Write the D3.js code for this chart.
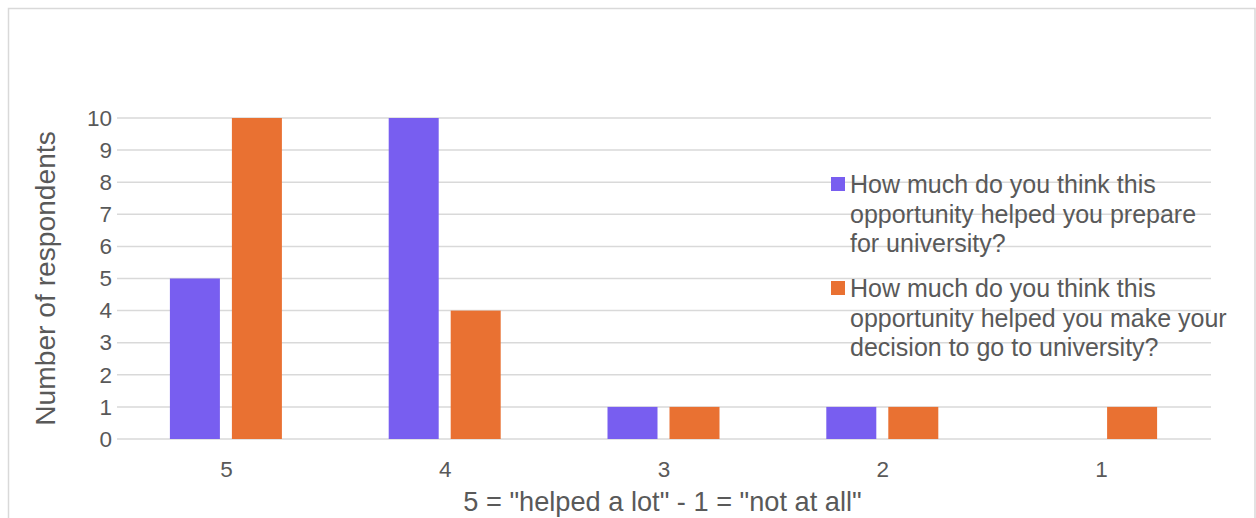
<!DOCTYPE html>
<html><head><meta charset="utf-8">
<script src="https://cdn.jsdelivr.net/npm/d3@7"></script>
<style>
html,body{margin:0;padding:0;background:#fff;}
text{font-family:"Liberation Sans",Arial,Helvetica,sans-serif;fill:#595959;}
</style></head>
<body>
<svg id="chart" width="1256" height="518"></svg>
<script>
const categories = ["5","4","3","2","1"];
const seriesNames = [
  ["How much do you think this","opportunity helped you prepare","for university?"],
  ["How much do you think this","opportunity helped you make your","decision to go to university?"]
];
const prepareValues = [5,10,1,1,0];
const decisionValues = [10,4,1,1,1];
const yTicks = [0,1,2,3,4,5,6,7,8,9,10];
const colors = ["#785EF0","#E97132"];
const yTitle = "Number of respondents";
const xTitle = "5 = \"helped a lot\" - 1 = \"not at all\"";

(function(){
const svg = d3.select("#chart");
// outer border
svg.append("rect").attr("x",8.5).attr("y",8.5).attr("width",1246.5).attr("height",520)
  .attr("fill","none").attr("stroke","#d9d9d9").attr("stroke-width",1.5);

const pL=117, pR=1211, pT=118, pB=439;
const x = d3.scaleBand().domain(categories).range([pL,pR]);
const y = d3.scaleLinear().domain([0,10]).range([pB,pT]);

// gridlines
svg.append("g").selectAll("line").data(yTicks).join("line")
  .attr("x1",pL).attr("x2",pR)
  .attr("y1",d=>y(d)).attr("y2",d=>y(d))
  .attr("stroke","#d9d9d9").attr("stroke-width",1.5);

// y axis labels
const yAxis = d3.axisLeft(y).tickValues(yTicks).tickSize(0).tickPadding(5);
const gy = svg.append("g").attr("transform",`translate(${pL},0)`).call(yAxis);
gy.select(".domain").remove();
gy.selectAll("text").style("font-size","22.5px").attr("fill","#595959")
  .style("font-family","'Liberation Sans',Arial,sans-serif");

// x axis labels
const xAxis = d3.axisBottom(x).tickSize(0).tickPadding(22);
const gx = svg.append("g").attr("transform",`translate(0,${pB})`).call(xAxis);
gx.select(".domain").remove();
gx.selectAll("text").style("font-size","22.5px").attr("fill","#595959")
  .style("font-family","'Liberation Sans',Arial,sans-serif");

// bars
const barW = 50, gap = 12;
const series = [prepareValues, decisionValues];
series.forEach((vals,si)=>{
  svg.append("g").selectAll("rect").data(vals.map((v,i)=>({c:categories[i],v})))
    .join("rect")
    .attr("x",d=>x(d.c)+x.bandwidth()/2 + (si===0 ? -(gap/2+barW) : gap/2) - 0.5)
    .attr("width",barW)
    .attr("y",d=>y(d.v))
    .attr("height",d=>y(0)-y(d.v))
    .attr("fill",colors[si]);
});

// axis titles
svg.append("text").attr("transform",`translate(45,${(pT+pB)/2}) rotate(-90)`)
  .attr("text-anchor","middle").attr("dominant-baseline","central")
  .style("font-size","28.2px").text(yTitle);
svg.append("text").attr("x",(pL+pR)/2-1.5).attr("y",501)
  .attr("text-anchor","middle").attr("dominant-baseline","central")
  .style("font-size","27.2px").text(xTitle);

// legend
const legY = [184,288];
const lineH = 29.5;
seriesNames.forEach((lines,si)=>{
  const g = svg.append("g");
  g.append("rect").attr("x",831).attr("y",legY[si]-7).attr("width",14).attr("height",14).attr("fill",colors[si]);
  g.selectAll("text").data(lines).join("text")
    .attr("x",850).attr("y",(d,i)=>legY[si]+i*lineH)
    .attr("dominant-baseline","central")
    .style("font-size","25px").text(d=>d);
});
})();
</script>
</body></html>
